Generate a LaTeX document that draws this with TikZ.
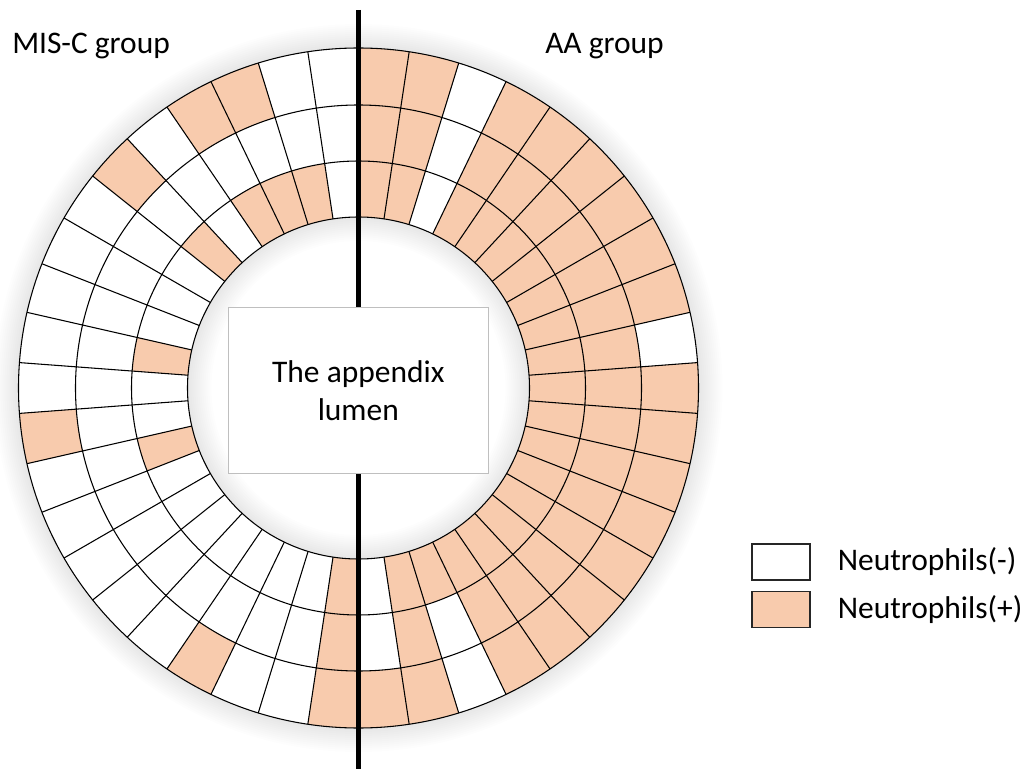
\documentclass[tikz,border=0pt]{standalone}
\usepackage{fontspec}
\setmainfont{Carlito}
\usetikzlibrary{positioning}
\definecolor{peach}{HTML}{F8CBAD}
\definecolor{boxgray}{HTML}{BFBFBF}

% one coloured cell of the ring: inner radius, outer radius, sector number
\newcommand{\ringcell}[3]{%
  \fill[cellfill] ({90-#3*360/42}:#1)
    arc[start angle={90-#3*360/42}, delta angle={-360/42}, radius=#1]
    -- ({90-(#3+1)*360/42}:#2)
    arc[start angle={90-(#3+1)*360/42}, delta angle={360/42}, radius=#2]
    -- cycle;}

\tikzset{
  cellfill/.style={fill=peach},
  gridline/.style={draw=black, line width=0.8pt},
  txtnode/.style={font=\fontsize{23.6}{28.7}\selectfont, inner sep=0pt},
  legendbox/.style={draw=black!85, line width=1.1pt, minimum width=43.7pt,
    minimum height=27pt, inner sep=0pt},
}

\begin{document}
\begin{tikzpicture}[x=0.75pt, y=0.75pt]
    \useasboundingbox (0,0) rectangle (1026,769);

    \begin{scope}[shift={(358.5,381)}]
      % soft shadow round the ring
      \foreach \i in {2,4,...,24} {
        \fill[black, opacity=0.009, even odd rule] (0,0) circle[radius=340+\i] (0,0) circle[radius=340];
        \fill[black, opacity=0.009, even odd rule] (0,0) circle[radius=171] (0,0) circle[radius=171-\i];
      }
      \fill[white, even odd rule] (0,0) circle[radius=340] (0,0) circle[radius=171];

      % outer ring
      \foreach \k in {0,1,3,4,5,6,7,8,10,11,12,13,14,15,16,17,19,20,21,24,30,36,38,39}
        \ringcell{283}{340}{\k};
      % middle ring
      \foreach \k in {0,1,3,4,5,6,7,8,9,10,11,12,13,14,15,16,17,19,21}
        \ringcell{227}{283}{\k};
      % inner ring
      \foreach \k in {0,1,3,4,5,6,7,8,9,10,11,12,13,14,15,16,17,18,19,21,29,32,36,38,39,40}
        \ringcell{171}{227}{\k};

      \foreach \k in {0,...,41}
        \draw[gridline] ({90-\k*360/42}:171) -- ({90-\k*360/42}:340);
      \foreach \r in {171,227,283,340}
        \draw[gridline] (0,0) circle[radius=\r];
    \end{scope}

    % split between the two groups
    \coordinate (top) at (358.5,759);
    \coordinate (bottom) at (358.5,0);
    \draw[line width=3.4pt] (top) -- (bottom);

    \node[txtnode, draw=boxgray, line width=0.6pt, fill=white, align=center,
      minimum width=195pt, minimum height=125pt] (lumen) at (358.3,378.5)
      {The appendix\\lumen};

    \node[txtnode, anchor=base west] (misc) at (12,715) {MIS-C group};
    \node[txtnode, anchor=base west] (aa) at (545,715) {AA group};

    % legend
    \node[legendbox, fill=white] (negbox) at (781,207) {};
    \node[legendbox, fill=peach, below=7.5pt of negbox] (posbox) {};
    \node[txtnode, right=20pt of negbox] (negtxt) {Neutrophils(-)};
    \node[txtnode, right=20pt of posbox] (postxt) {Neutrophils(+)};
  \end{tikzpicture}
\end{document}
